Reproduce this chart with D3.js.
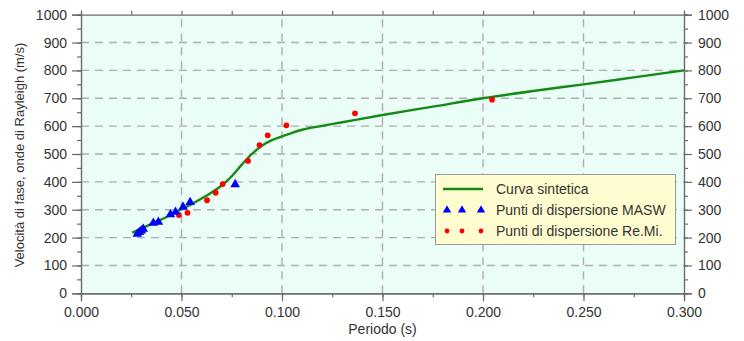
<!DOCTYPE html>
<html>
<head>
<meta charset="utf-8">
<script src="https://cdn.jsdelivr.net/npm/d3@7"></script>
<style>
  html, body { margin: 0; padding: 0; background: #ffffff; }
  svg { display: block; font-family: "Liberation Sans", Arial, sans-serif; }
</style>
</head>
<body>
<svg id="chart" width="744" height="341"></svg>
<script>
// Synthetic dispersion curve (period s, phase velocity m/s)
const curvePeriod = [0.0255, 0.030, 0.035, 0.040, 0.045, 0.050, 0.055, 0.060, 0.065, 0.070,
  0.075, 0.080, 0.085, 0.090, 0.095, 0.100, 0.105, 0.110, 0.120, 0.130,
  0.150, 0.175, 0.200, 0.225, 0.250, 0.275, 0.300];
const curveVelocity = [218, 232, 249, 265, 283, 302, 320, 340, 362, 387,
  420, 462, 500, 530, 550, 563, 576, 587, 601, 614,
  640, 670, 700, 726, 750, 775, 800];

// MASW dispersion points
const maswPeriod = [0.0280, 0.0290, 0.0300, 0.0310, 0.0360, 0.0385, 0.0445, 0.0470, 0.0508, 0.0543, 0.0767];
const maswVelocity = [213, 219, 225, 231, 252, 256, 283, 292, 310, 327, 391];

// Re.Mi. dispersion points
const remiPeriod = [0.0487, 0.0530, 0.0627, 0.0670, 0.0705, 0.0831, 0.0888, 0.0929, 0.1022, 0.1363, 0.2045];
const remiVelocity = [281, 289, 334, 361, 392, 475, 532, 567, 603, 646, 695];

const xTicks = [0, 0.05, 0.10, 0.15, 0.20, 0.25, 0.30];
const yTicks = [0, 100, 200, 300, 400, 500, 600, 700, 800, 900, 1000];

const legendLabels = ["Curva sintetica", "Punti di dispersione MASW", "Punti di dispersione Re.Mi."];
const xTitle = "Periodo (s)";
const yTitle = "Velocità di fase, onde di Rayleigh (m/s)";

const svg = d3.select("#chart");
const L = 81, R = 684, T = 14.7, B = 293.3;

const x = d3.scaleLinear().domain([0, 0.3]).range([L, R]);
const y = d3.scaleLinear().domain([0, 1000]).range([B, T]);

const textCol = "#333333";
const axisCol = "#6a6a6a";

// plot background
svg.append("rect").attr("x", L).attr("y", T).attr("width", R - L).attr("height", B - T)
  .attr("fill", "#eafdf6");

// dashed grid
const grid = svg.append("g").attr("stroke", "#adadad").attr("stroke-width", 1.4)
  .attr("stroke-dasharray", "8,6");
xTicks.filter(t => t > 0 && t < 0.3).forEach(t => {
  grid.append("line").attr("x1", x(t)).attr("x2", x(t)).attr("y1", B).attr("y2", T);
});
yTicks.filter(t => t > 0 && t < 1000).forEach(t => {
  grid.append("line").attr("x1", L).attr("x2", R).attr("y1", y(t)).attr("y2", y(t));
});

// axes
const xMinor = d3.range(0, 0.3001, 0.025);
const yMinor = d3.range(0, 1001, 50);

const fmtX = d3.format(".3f");

const axBottom = svg.append("g").attr("transform", `translate(0,${B})`)
  .call(d3.axisBottom(x).tickValues(xMinor).tickSize(4).tickFormat(""));
axBottom.append("g").call(d3.axisBottom(x).tickValues(xTicks).tickSize(8).tickPadding(6).tickFormat(fmtX));

svg.append("g").attr("transform", `translate(0,${T})`)
  .call(d3.axisTop(x).tickValues(xMinor).tickSize(4).tickFormat(""));

const axLeft = svg.append("g").attr("transform", `translate(${L},0)`)
  .call(d3.axisLeft(y).tickValues(yMinor).tickSize(4).tickFormat(""));
axLeft.append("g").call(d3.axisLeft(y).tickValues(yTicks).tickSize(9).tickPadding(5).tickFormat(d3.format("d")));

const axRight = svg.append("g").attr("transform", `translate(${R},0)`)
  .call(d3.axisRight(y).tickValues(yMinor).tickSize(4).tickFormat(""));
axRight.append("g").call(d3.axisRight(y).tickValues(yTicks).tickSize(8).tickPadding(6).tickFormat(d3.format("d")));

svg.selectAll(".domain").attr("stroke", axisCol).attr("stroke-width", 1.2);
svg.selectAll(".tick line").attr("stroke", axisCol).attr("stroke-width", 1.2);
svg.selectAll(".tick text").attr("fill", textCol).attr("font-size", 14)
  .attr("font-family", "'Liberation Sans', Arial, sans-serif");

// axis titles
svg.append("text").attr("x", (L + R) / 2).attr("y", 334).attr("text-anchor", "middle")
  .attr("font-size", 14).attr("fill", textCol).text(xTitle);
svg.append("text").attr("transform", `translate(23.5,${(T + B) / 2 + 1}) rotate(-90)`)
  .attr("text-anchor", "middle").attr("font-size", 13).attr("fill", textCol).text(yTitle);

// synthetic curve
const curveData = curvePeriod.map((p, i) => [p, curveVelocity[i]]);
svg.append("path").datum(curveData)
  .attr("fill", "none").attr("stroke", "#138a13").attr("stroke-width", 2.4)
  .attr("d", d3.line().x(d => x(d[0])).y(d => y(d[1])).curve(d3.curveMonotoneX));

// Re.Mi. points
const remiData = remiPeriod.map((p, i) => [p, remiVelocity[i]]);
svg.append("g").selectAll("circle").data(remiData).join("circle")
  .attr("cx", d => x(d[0])).attr("cy", d => y(d[1])).attr("r", 2.9).attr("fill", "#ff0000");

// MASW points
const tri = d3.symbol().type(d3.symbolTriangle).size(40);
const maswData = maswPeriod.map((p, i) => [p, maswVelocity[i]]);
svg.append("g").selectAll("path").data(maswData).join("path")
  .attr("transform", d => `translate(${x(d[0])},${y(d[1])})`)
  .attr("d", tri).attr("fill", "#0000ff");

// legend
const lg = svg.append("g");
lg.append("rect").attr("x", 435.5).attr("y", 174.5).attr("width", 240).attr("height", 70)
  .attr("fill", "#fffdcf").attr("stroke", "#9a9a9a").attr("stroke-width", 1);
const rowY = [189, 210, 231];
lg.append("line").attr("x1", 443).attr("x2", 483).attr("y1", rowY[0]).attr("y2", rowY[0])
  .attr("stroke", "#138a13").attr("stroke-width", 2.4);
[447, 462, 481].forEach(cx => {
  lg.append("path").attr("transform", `translate(${cx},${rowY[1]})`)
    .attr("d", d3.symbol().type(d3.symbolTriangle).size(30)).attr("fill", "#0000ff");
  lg.append("circle").attr("cx", cx).attr("cy", rowY[2]).attr("r", 2.4).attr("fill", "#ff0000");
});
legendLabels.forEach((t, i) => {
  lg.append("text").attr("x", 496).attr("y", rowY[i] + 5).attr("font-size", 14)
    .attr("fill", textCol).text(t);
});
</script>
</body>
</html>
